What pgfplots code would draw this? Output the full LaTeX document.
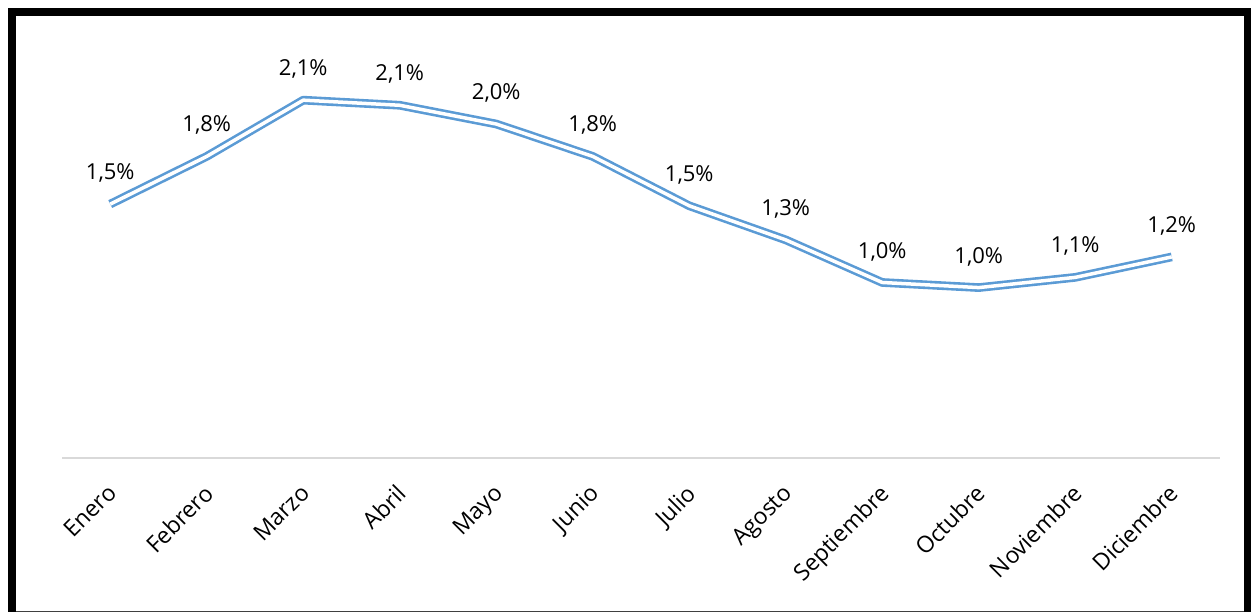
\documentclass[border=0pt]{standalone}
\usepackage{pgfplots}
\pgfplotsset{compat=1.18}
\usepackage{fontspec}
\setmainfont{Open Sans}
\definecolor{lineblue}{RGB}{91,155,213}
\definecolor{axgray}{RGB}{217,217,217}
\begin{document}
\begin{tikzpicture}[x=1pt,y=1pt]
\useasboundingbox (0,0) rectangle (1251,612);
\begin{scope}
\clip (0,0) rectangle (1251,612);
\fill[white] (0,0) rectangle (1251,612);
\draw[line width=8pt] (12,-10) -- (12,600) -- (1247.5,600) -- (1247.5,-10);
\draw[line width=1pt, black!75] (16,0.5) -- (1244,0.5);
\end{scope}
\begin{axis}[
  at={(62pt,154pt)}, anchor=south west, scale only axis,
  width=1158pt, height=426pt,
  xmin=-0.5, xmax=11.5, ymin=0, ymax=2.5,
  hide y axis,
  axis x line*=bottom,
  x axis line style={axgray, line width=1.5pt, -},
  xtick={0,...,11},
  xticklabels={Enero,Febrero,Marzo,Abril,Mayo,Junio,Julio,Agosto,Septiembre,Octubre,Noviembre,Diciembre},
  major tick length=0pt,
  /pgf/number format/assume math mode=true,
  xticklabel style={xshift=-4pt, yshift=-20pt, rotate=45, anchor=north east, font=\fontsize{23}{27}\selectfont},
  nodes near coords={\pgfmathprintnumber[fixed,fixed zerofill,precision=1,use comma]{\pgfplotspointmeta}\%},
  nodes near coords style={font=\fontsize{22}{26}\selectfont, anchor=center, yshift=31pt, text=black},
  clip=false,
]
\addplot[lineblue, line width=2.6pt, double=white, double distance=3.5pt, line join=round, mark=none] coordinates {
(0,1.49) (1,1.77) (2,2.10) (3,2.07) (4,1.96) (5,1.77) (6,1.48) (7,1.28) (8,1.03) (9,1.00) (10,1.06) (11,1.18)
};
\end{axis}
\end{tikzpicture}
\end{document}
